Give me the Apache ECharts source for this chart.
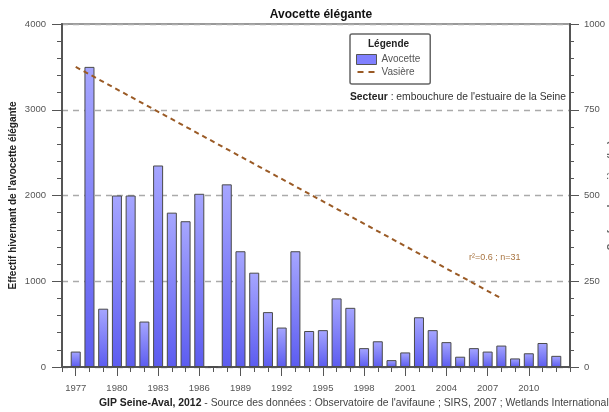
<!DOCTYPE html>
<html>
<head>
<meta charset="utf-8">
<script src="https://cdn.jsdelivr.net/npm/echarts@6/dist/echarts.min.js"></script>
<style>
  html, body { margin: 0; padding: 0; background: #fff; }
  #chart { width: 609px; height: 412px; }
</style>
</head>
<body>
<div id="chart"></div>
<script>
// years on the axis (one empty slot each side, like the original)
let years = [];
for (let y = 1976; y <= 2013; y++) years.push(String(y));

let avocette = [
  "-", 180, 3500, 680, 2000, 2000, 530, 2350, 1800, 1700, 2020, 0,
  2130, 1350, 1100, 640, 460, 1350, 420, 430, 800, 690, 220, 300,
  80, 170, 580, 430, 290, 120, 220, 180, 250, 100, 160, 280, 130, "-",
];

// trend of the mudflat surface (right axis)
let vasiereYears = ["1977", "2008"];
let vasiereValues = [875, 200];

let labelYears = ["1977", "1980", "1983", "1986", "1989", "1992", "1995", "1998", "2001", "2004", "2007", "2010"];

let leftTicks = { min: 0, max: 4000, interval: 1000 };
let rightTicks = { min: 0, max: 1000, interval: 250 };

let font = "Liberation Sans";
let grey = "#555";

function isLabelYear(idx, val) {
  return labelYears.indexOf(String(val)) >= 0;
}

let chart = echarts.init(document.getElementById("chart"));

chart.setOption({
  animation: false,
  textStyle: { fontFamily: font },
  title: {
    text: "Avocette élégante",
    left: 316,
    textAlign: "center",
    top: 4,
    textStyle: { fontSize: 12, fontWeight: "bold", color: "#111", fontFamily: font },
  },
  grid: {
    left: 62,
    right: 39,
    top: 24,
    bottom: 45,
    containLabel: false,
    outerBoundsMode: "none",
    show: true,
    borderColor: "#999",
    borderWidth: 2,
  },
  legend: {
    orient: "vertical",
    left: 350,
    top: 34,
    padding: [20, 10, 7, 6],
    itemWidth: 20,
    itemHeight: 10,
    itemGap: 2,
    borderColor: "#666",
    borderWidth: 1.5,
    borderRadius: 2,
    textStyle: { color: grey, fontSize: 10, fontFamily: font },
    data: [
      {
        name: "Avocette",
        icon: "rect",
        itemStyle: { color: "#8080ff", borderColor: "#555", borderWidth: 1 },
      },
      {
        name: "Vasière",
        icon: "path://M0,0L0.05,0L0.05,0.05Z M0,10L0.05,10L0.05,9.95Z M20,0L19.95,0L19.95,0.05Z M1,4L7,4L7,6L1,6Z M12,4L18,4L18,6L12,6Z",
        itemStyle: { color: "#9a5a25", borderWidth: 0 },
      },
    ],
  },
  xAxis: [
    {
      type: "category",
      data: years,
      boundaryGap: false,
      axisLine: { lineStyle: { color: grey, width: 2 } },
      axisTick: { interval: 0, length: 5, lineStyle: { color: grey } },
      axisLabel: {
        interval: isLabelYear,
        color: grey,
        fontSize: 9.5,
        margin: 16,
      },
    },
    {
      type: "category",
      data: years,
      boundaryGap: false,
      position: "bottom",
      axisLine: { show: false },
      axisTick: { interval: isLabelYear, length: 9, lineStyle: { color: grey } },
      axisLabel: { show: false },
    },
  ],
  yAxis: [
    {
      type: "value",
      min: leftTicks.min,
      max: leftTicks.max,
      interval: leftTicks.interval,
      name: "Effectif hivernant de l'avocette élégante",
      nameLocation: "middle",
      nameGap: 44,
      nameMoveOverlap: false,
      nameTextStyle: { fontSize: 10, fontWeight: "bold", color: "#222", fontFamily: font },
      axisLine: { show: true, lineStyle: { color: grey, width: 2 } },
      axisTick: { show: true, length: 10, lineStyle: { color: grey } },
      minorTick: { show: true, splitNumber: 5, length: 5, lineStyle: { color: grey } },
      axisLabel: { color: grey, fontSize: 9.5, margin: 16, formatter: function (v) { return String(v); } },
      splitLine: { lineStyle: { color: "#aaa", type: [6, 5], width: 1.3 } },
    },
    {
      type: "value",
      min: rightTicks.min,
      max: rightTicks.max,
      interval: rightTicks.interval,
      position: "right",
      name: "Surface de vasière (ha)",
      nameLocation: "middle",
      nameGap: 37,
      nameMoveOverlap: false,
      nameTextStyle: { fontSize: 10, fontWeight: "bold", color: "#666", fontFamily: font },
      axisLine: { show: true, lineStyle: { color: grey, width: 2 } },
      axisTick: { show: true, length: 9, lineStyle: { color: grey } },
      minorTick: { show: true, splitNumber: 5, length: 4, lineStyle: { color: grey } },
      axisLabel: { color: grey, fontSize: 9.5, margin: 14, formatter: function (v) { return String(v); } },
      splitLine: { show: false },
    },
  ],
  series: [
    {
      name: "Avocette",
      type: "bar",
      xAxisIndex: 0,
      yAxisIndex: 0,
      barWidth: "73%",
      data: avocette,
      itemStyle: {
        color: new echarts.graphic.LinearGradient(0, 0, 0, 1, [
          { offset: 0, color: "#a6a6ff" },
          { offset: 1, color: "#5c5cf0" },
        ]),
        borderColor: "#4a4a4a",
        borderWidth: 1,
      },
    },
    {
      name: "Vasière",
      type: "line",
      xAxisIndex: 0,
      yAxisIndex: 1,
      symbol: "none",
      data: vasiereYears.map(function (y, i) {
        return [y, vasiereValues[i]];
      }),
      lineStyle: { color: "#9a5a25", width: 2, type: [5, 4] },
      itemStyle: { color: "#9a5a25" },
      z: 3,
    },
  ],
  graphic: [
    {
      type: "text",
      left: 368,
      top: 39,
      style: { text: "Légende", font: "bold 10px Liberation Sans", fill: "#222" },
    },
    {
      type: "text",
      left: 350,
      top: 92,
      style: {
        text: "{b|Secteur} : embouchure de l'estuaire de la Seine",
        font: "10.3px Liberation Sans",
        fill: "#333",
        rich: {
          b: { fontWeight: "bold", fontSize: 10.3, fontFamily: font, fill: "#222" },
        },
      },
    },
    {
      type: "text",
      left: 469,
      top: 253,
      style: { text: "r²=0.6 ; n=31", font: "9px Liberation Sans", fill: "#a87440" },
    },
    {
      type: "text",
      left: 99,
      top: 398,
      style: {
        text: "{b|GIP Seine-Aval, 2012} - Source des données : Observatoire de l'avifaune ; SIRS, 2007 ; Wetlands International",
        font: "10.4px Liberation Sans",
        fill: "#444",
        rich: {
          b: { fontWeight: "bold", fontSize: 10.4, fontFamily: font, fill: "#222" },
        },
      },
    },
  ],
});
</script>
</body>
</html>
